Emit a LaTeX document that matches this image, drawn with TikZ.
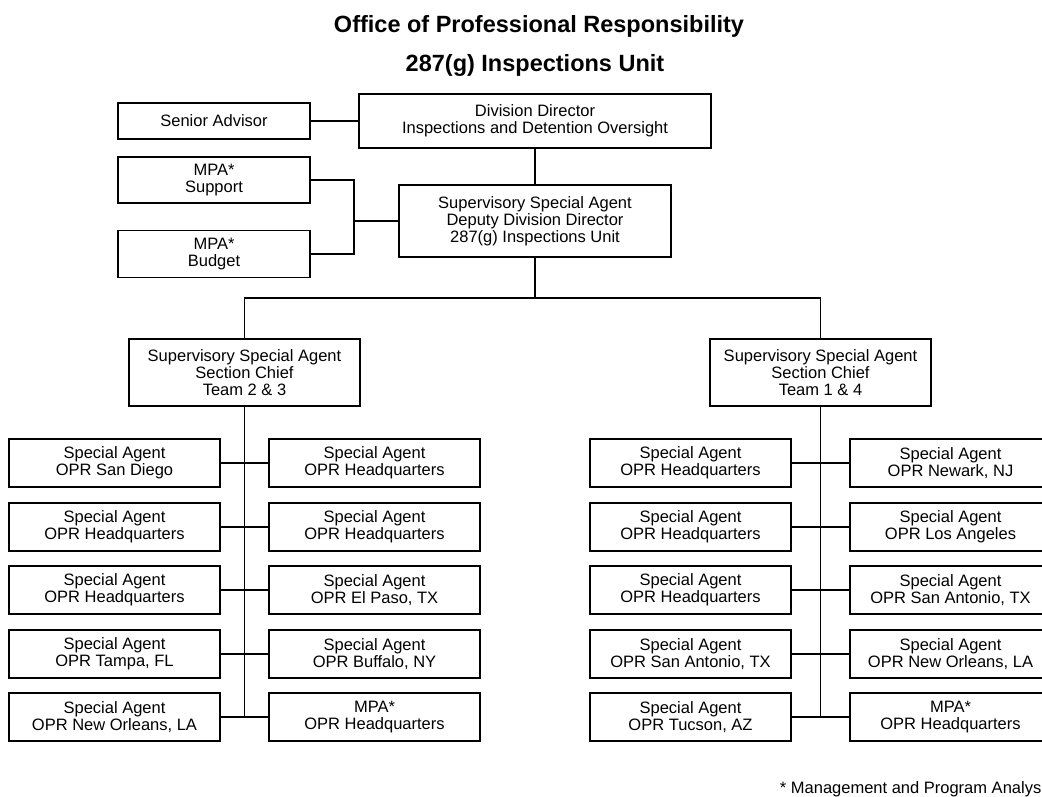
\documentclass[tikz,border=0pt]{standalone}
\usepackage{fontspec}
\setmainfont{Liberation Sans}
\begin{document}
\begin{tikzpicture}[x=1pt,y=-1pt,
  box/.style={draw=black,line width=1.1pt,fill=white,inner sep=0pt,align=center,
    font=\fontsize{16.5}{17}\selectfont},
  conn/.style={draw=black,line width=1.1pt},
  ttl/.style={anchor=base,font=\fontsize{23.5}{24}\selectfont\bfseries}]
\useasboundingbox (0,0) rectangle (1042,796);
\clip (0,0) rectangle (1042,796);
\fill[white] (0,0) rectangle (1042,796);

% titles
\node[ttl] (t1) at (539,32) {Office of Professional Responsibility};
\node[ttl] (t2) at (535,71) {287(g) Inspections Unit};

% top
\node[box,minimum width=192,minimum height=36] (sa) at (214,121) {Senior Advisor};
\node[box,minimum width=352,minimum height=54] (dd) at (535,121) {Division Director\\Inspections and Detention Oversight};
\node[box,minimum width=192,minimum height=46] (sup) at (214,180) {MPA*\\Support};
\node[box,minimum width=192,minimum height=47] (bud) at (214,254) {MPA*\\Budget};
\node[box,minimum width=272,minimum height=72] (dep) at (535,221) {Supervisory Special Agent\\Deputy Division Director\\287(g) Inspections Unit};

\coordinate (br) at (354,221);
\coordinate (bus) at (535,298);

\draw[conn] (sa.east) -- (dd.west);
\draw[conn] (dd.south) -- (dep.north);
\draw[conn] (sup.east) -| (br) |- (bud.east);
\draw[conn] (br) -- (dep.west);

% section chiefs
\node[box,minimum width=231,minimum height=67] (scl) at (244.5,372.5) {Supervisory Special Agent\\Section Chief\\Team 2 \& 3};
\node[box,minimum width=221,minimum height=67] (scr) at (820.5,372.5) {Supervisory Special Agent\\Section Chief\\Team 1 \& 4};

\draw[conn] (dep.south) -- (bus);
\draw[conn] (scl.north) |- (bus) -| (scr.north);

% left team
\node[box,minimum width=211,minimum height=48] (l1) at (114.5,463) {Special Agent\\OPR San Diego};
\node[box,minimum width=211,minimum height=48] (l2) at (114.5,527) {Special Agent\\OPR Headquarters};
\node[box,minimum width=211,minimum height=48] (l3) at (114.5,590) {Special Agent\\OPR Headquarters};
\node[box,minimum width=211,minimum height=48] (l4) at (114.5,654) {Special Agent\\OPR Tampa, FL};
\node[box,minimum width=211,minimum height=48] (l5) at (114.5,717) {Special Agent\\OPR New Orleans, LA};
\node[box,minimum width=211,minimum height=48] (m1) at (374.5,463) {Special Agent\\OPR Headquarters};
\node[box,minimum width=211,minimum height=48] (m2) at (374.5,527) {Special Agent\\OPR Headquarters};
\node[box,minimum width=211,minimum height=48] (m3) at (374.5,590) {Special Agent\\OPR El Paso, TX};
\node[box,minimum width=211,minimum height=48] (m4) at (374.5,654) {Special Agent\\OPR Buffalo, NY};
\node[box,minimum width=211,minimum height=48] (m5) at (374.5,717) {MPA*\\OPR Headquarters};

\draw[conn] (scl.south) -- (scl.south |- l5.east);
\foreach \a/\b in {l1/m1,l2/m2,l3/m3,l4/m4,l5/m5} \draw[conn] (\a.east) -- (\b.west);

% right team
\node[box,minimum width=201,minimum height=48] (r1) at (690.5,463) {Special Agent\\OPR Headquarters};
\node[box,minimum width=201,minimum height=48] (r2) at (690.5,527) {Special Agent\\OPR Headquarters};
\node[box,minimum width=201,minimum height=48] (r3) at (690.5,590) {Special Agent\\OPR Headquarters};
\node[box,minimum width=201,minimum height=48] (r4) at (690.5,654) {Special Agent\\OPR San Antonio, TX};
\node[box,minimum width=201,minimum height=48] (r5) at (690.5,717) {Special Agent\\OPR Tucson, AZ};
\node[box,minimum width=201,minimum height=48] (s1) at (950.5,463) {Special Agent\\OPR Newark, NJ};
\node[box,minimum width=201,minimum height=48] (s2) at (950.5,527) {Special Agent\\OPR Los Angeles};
\node[box,minimum width=201,minimum height=48] (s3) at (950.5,590) {Special Agent\\OPR San Antonio, TX};
\node[box,minimum width=201,minimum height=48] (s4) at (950.5,654) {Special Agent\\OPR New Orleans, LA};
\node[box,minimum width=201,minimum height=48] (s5) at (950.5,717) {MPA*\\OPR Headquarters};

\draw[conn] (scr.south) -- (scr.south |- r5.east);
\foreach \a/\b in {r1/s1,r2/s2,r3/s3,r4/s4,r5/s5} \draw[conn] (\a.east) -- (\b.west);

% footnote (printed cut off at the right edge in the reference)
\node[anchor=base east,inner sep=0pt,font=\fontsize{16.5}{17}\selectfont] (fn) at (1041.5,793) {* Management and Program Analys};
\end{tikzpicture}
\end{document}
